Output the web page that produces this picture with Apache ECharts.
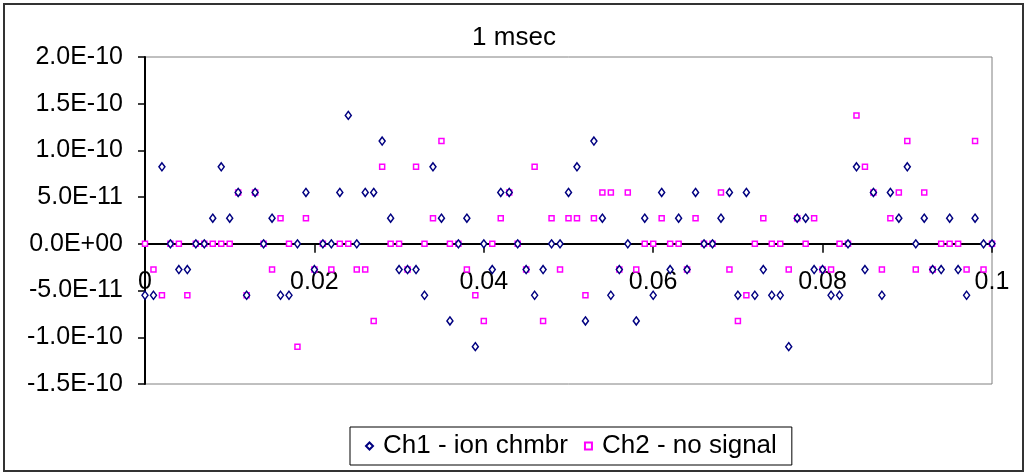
<!DOCTYPE html>
<html>
<head>
<meta charset="utf-8">
<script src="https://cdn.jsdelivr.net/npm/echarts@6/dist/echarts.min.js"></script>
<style>
html,body{margin:0;padding:0;background:#fff;}
#chart{width:1028px;height:475px;}
</style>
</head>
<body>
<div id="chart"></div>
<script>
var titleText = "1 msec";
var seriesNames = ["Ch1 - ion chmbr", "Ch2 - no signal"];
var xTicks = [0, 0.02, 0.04, 0.06, 0.08, 0.1];
var yTicks = [-1.5e-10, -1.0e-10, -5.0e-11, 0, 5.0e-11, 1.0e-10, 1.5e-10, 2.0e-10];

var timeSec = [
0,0.001,0.002,0.003,0.004,0.005,0.006,0.007,0.008,0.009,
0.010,0.011,0.012,0.013,0.014,0.015,0.016,0.017,0.018,0.019,
0.020,0.021,0.022,0.023,0.024,0.025,0.026,0.027,0.028,0.029,
0.030,0.031,0.032,0.033,0.034,0.035,0.036,0.037,0.038,0.039,
0.040,0.041,0.042,0.043,0.044,0.045,0.046,0.047,0.048,0.049,
0.050,0.051,0.052,0.053,0.054,0.055,0.056,0.057,0.058,0.059,
0.060,0.061,0.062,0.063,0.064,0.065,0.066,0.067,0.068,0.069,
0.070,0.071,0.072,0.073,0.074,0.075,0.076,0.077,0.078,0.079,
0.080,0.081,0.082,0.083,0.084,0.085,0.086,0.087,0.088,0.089,
0.090,0.091,0.092,0.093,0.094,0.095,0.096,0.097,0.098,0.099,
0.100];

var ch1 = [
-5.5e-11,-5.5e-11,8.25e-11,0,-2.75e-11,-2.75e-11,0,0,2.75e-11,8.25e-11,
2.75e-11,5.5e-11,-5.5e-11,5.5e-11,0,2.75e-11,-5.5e-11,-5.5e-11,0,5.5e-11,
-2.75e-11,0,0,5.5e-11,1.375e-10,0,5.5e-11,5.5e-11,1.1e-10,2.75e-11,
-2.75e-11,-2.75e-11,-2.75e-11,-5.5e-11,8.25e-11,2.75e-11,-8.25e-11,0,2.75e-11,-1.1e-10,
0,-2.75e-11,5.5e-11,5.5e-11,0,-2.75e-11,-5.5e-11,-2.75e-11,0,0,
5.5e-11,8.25e-11,-8.25e-11,1.1e-10,2.75e-11,-5.5e-11,-2.75e-11,0,-8.25e-11,2.75e-11,
-5.5e-11,5.5e-11,-2.75e-11,2.75e-11,-2.75e-11,5.5e-11,0,0,2.75e-11,5.5e-11,
-5.5e-11,5.5e-11,-5.5e-11,-2.75e-11,-5.5e-11,-5.5e-11,-1.1e-10,2.75e-11,2.75e-11,-2.75e-11,
-2.75e-11,-5.5e-11,-5.5e-11,0,8.25e-11,-2.75e-11,5.5e-11,-5.5e-11,5.5e-11,2.75e-11,
8.25e-11,0,2.75e-11,-2.75e-11,-2.75e-11,2.75e-11,-2.75e-11,-5.5e-11,2.75e-11,0,
0];

var ch2 = [
0,-2.75e-11,-5.5e-11,0,0,-5.5e-11,0,0,0,0,
0,5.5e-11,-5.5e-11,5.5e-11,0,-2.75e-11,2.75e-11,0,-1.1e-10,2.75e-11,
-2.75e-11,0,-2.75e-11,0,0,-2.75e-11,-2.75e-11,-8.25e-11,8.25e-11,0,
0,-2.75e-11,8.25e-11,0,2.75e-11,1.1e-10,0,0,-2.75e-11,-5.5e-11,
-8.25e-11,0,2.75e-11,5.5e-11,0,-2.75e-11,8.25e-11,-8.25e-11,2.75e-11,-2.75e-11,
2.75e-11,2.75e-11,-5.5e-11,2.75e-11,5.5e-11,5.5e-11,-2.75e-11,5.5e-11,-2.75e-11,0,
0,2.75e-11,0,0,-2.75e-11,2.75e-11,0,0,5.5e-11,-2.75e-11,
-8.25e-11,-5.5e-11,0,2.75e-11,0,0,-2.75e-11,2.75e-11,0,2.75e-11,
-2.75e-11,-2.75e-11,0,0,1.375e-10,8.25e-11,5.5e-11,-2.75e-11,2.75e-11,5.5e-11,
1.1e-10,-2.75e-11,5.5e-11,-2.75e-11,0,0,0,-2.75e-11,1.1e-10,-2.75e-11,
0];

function pairs(ys){ return timeSec.map(function(t,i){ return [t, ys[i]]; }); }

var FONT = "'Liberation Sans', Arial, sans-serif";

function fmtY(v){
  if (Math.abs(v) < 1e-16) v = 0;
  var s = v.toExponential(1).toUpperCase();
  return s.replace(/E([+-])(\d)$/, 'E$10$2');
}

var GRID_TOP = 57, GRID_BOTTOM = 91, H = 475;
var yMin = yTicks[0], yMax = yTicks[yTicks.length-1];
var plotH = H - GRID_TOP - GRID_BOTTOM;
var zeroOffset = -(plotH * (0 - yMin) / (yMax - yMin));

var chart = echarts.init(document.getElementById('chart'), null, {renderer:'canvas'});
chart.setOption({
  animation: false,
  backgroundColor: '#ffffff',
  textStyle: {fontFamily: FONT},
  title: {
    text: titleText, left: 'center', top: 20,
    textStyle: {fontSize: 26, fontWeight: 'normal', color: '#000', fontFamily: FONT}
  },
  graphic: [{
    type: 'rect', silent: true, z: -1,
    shape: {x: 4, y: 4, width: 1019, height: 467},
    style: {fill: null, stroke: '#333333', lineWidth: 2}
  }],
  grid: {
    left: 145, right: 36, top: GRID_TOP, bottom: GRID_BOTTOM,
    show: true, borderColor: '#808080', borderWidth: 1, backgroundColor: 'transparent'
  },
  legend: {
    left: 350, top: 427,
    padding: [4, 15, 4, 15],
    itemGap: 16, itemWidth: 7, itemHeight: 7,
    borderColor: '#000', borderWidth: 1,
    textStyle: {fontSize: 26, color: '#000', fontFamily: FONT, lineHeight: 30, padding: [0, 0, 0, 5]},
    data: seriesNames
  },
  xAxis: {
    type: 'value', min: 0, max: 0.1, interval: 0.02,
    position: 'bottom', offset: zeroOffset,
    axisLine: {show: true, onZero: false, lineStyle: {color: '#000', width: 2}},
    axisTick: {show: true, inside: false, length: 9, lineStyle: {color: '#000', width: 1.5}},
    axisLabel: {
      show: true, margin: 26, fontSize: 25, color: '#000', fontFamily: FONT,
      formatter: function(v){ return String(+v.toFixed(3)); }
    },
    splitLine: {show: false}
  },
  yAxis: {
    type: 'value', min: yMin, max: yMax, interval: 5e-11,
    axisLine: {show: true, onZero: false, lineStyle: {color: '#000', width: 2}},
    axisTick: {show: true, inside: false, length: 7, lineStyle: {color: '#000', width: 1.5}},
    axisLabel: {show: true, margin: 22, fontSize: 25, color: '#000', fontFamily: FONT, formatter: fmtY},
    splitLine: {show: false}
  },
  series: [
    {
      name: seriesNames[0], type: 'scatter', symbol: 'diamond', symbolSize: [6, 8],
      itemStyle: {color: '#ffffff', borderColor: '#000080', borderWidth: 1.5, opacity: 1},
      data: pairs(ch1), z: 3
    },
    {
      name: seriesNames[1], type: 'scatter', symbol: 'rect', symbolSize: 5,
      itemStyle: {color: '#ffffff', borderColor: '#ff00ff', borderWidth: 1.5, opacity: 1},
      data: pairs(ch2), z: 2
    }
  ]
});
</script>
</body>
</html>
